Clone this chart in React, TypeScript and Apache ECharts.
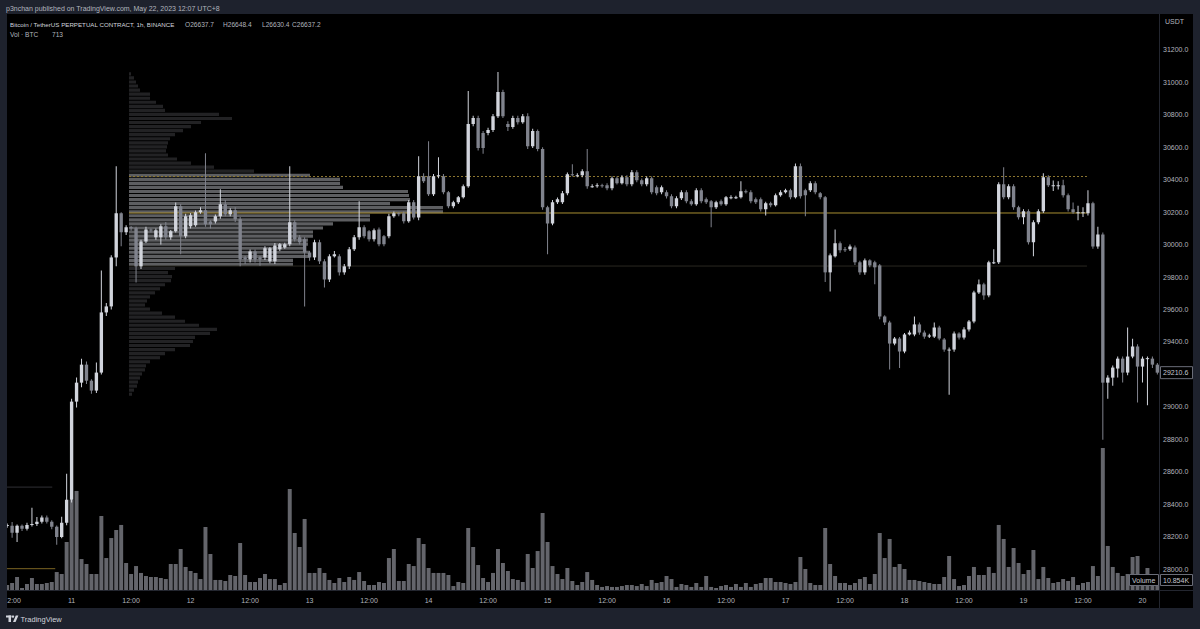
import React, { useEffect, useRef } from "react";
import * as echarts from "echarts";

// hours relative to 11 May 2023 00:00 (first candle: 10 May 11:00)
const FIRST_HOUR = -13;

// [open, close, low, high] per 1h candle
const candles: number[][] = [
  [28266,28272,28255,28280],[28266,28223,28192,28290],[28223,28266,28167,28275],[28266,28248,28235,28275],
  [28248,28272,28238,28285],[28272,28278,28262,28377],[28278,28291,28265,28320],[28291,28318,28280,28330],
  [28318,28291,28280,28330],[28291,28260,28245,28300],[28260,28198,28149,28268],[28198,28285,28190,28322],
  [28285,28427,28270,28587],[28427,29032,28410,29050],[29032,29149,28995,29180],[29149,29260,29120,29297],
  [29260,29161,29140,29280],[29161,29100,29080,29170],[29100,29211,29085,29273],[29211,29582,29200,29840],
  [29582,29619,29560,29640],[29619,29921,29600,29935],[29921,30193,29866,30484],[30193,30076,29990,30200],
  [30076,30107,30060,30120],[30107,30101,30085,30115],[30101,29866,29767,30110],[29866,30020,29850,30030],
  [30020,30094,30010,30110],[30094,30088,30075,30100],[30045,30088,30030,30100],[30045,30113,30000,30125],
  [30113,30045,30030,30140],[30045,30082,30030,30090],[30082,30236,30075,30260],[30236,30051,29940,30250],
  [30051,30175,30040,30190],[30113,30181,30100,30195],[30120,30199,30110,30210],[30199,30212,30190,30230],
  [30212,30125,30110,30564],[30143,30125,30100,30150],[30143,30175,30130,30185],[30175,30249,30160,30341],
  [30249,30187,30175,30275],[30187,30212,30175,30225],[30212,30156,30140,30230],[30156,29909,29866,30170],
  [29921,29909,29880,29930],[29909,29958,29890,29970],[29958,29909,29890,29970],[29921,29909,29870,29930],
  [29921,29977,29905,29990],[29897,29977,29885,29985],[29897,29995,29880,30010],[29971,30002,29960,30010],
  [29983,30002,29975,30012],[30002,30138,29990,30484],[30138,30033,30020,30150],[30045,30014,30000,30060],
  [30033,29952,29619,30045],[29952,29921,29900,29960],[29921,30014,29905,30030],[30014,29897,29880,30030],
  [29897,29785,29736,29910],[29785,29928,29770,29940],[29928,29940,29920,29960],[29928,29829,29810,29940],
  [29829,29866,29815,29880],[29866,29971,29850,29985],[29971,30045,29960,30060],[30045,30107,30030,30267],
  [30107,30051,30040,30120],[30082,30033,30020,30090],[30033,30088,30020,30100],[30094,30002,29990,30105],
  [30051,30002,29990,30060],[30051,30175,30040,30190],[30175,30193,30165,30205],[30193,30187,30175,30200],
  [30193,30144,30130,30205],[30144,30261,30135,30275],[30261,30168,30155,30275],[30168,30422,30150,30545],
  [30422,30391,30380,30440],[30422,30311,30300,30638],[30311,30422,30300,30435],[30422,30428,30410,30539],
  [30422,30323,30310,30435],[30323,30236,30225,30330],[30236,30261,30225,30270],[30261,30292,30250,30300],
  [30292,30360,30285,30370],[30360,30743,30350,30947],[30743,30780,30730,30795],[30780,30595,30580,30795],
  [30688,30595,30560,30700],[30688,30706,30675,30720],[30706,30792,30695,30805],[30792,30941,30780,31064],
  [30941,30792,30780,30955],[30743,30725,30700,30760],[30725,30780,30715,30795],[30780,30755,30740,30795],
  [30755,30792,30745,30805],[30792,30607,30590,30810],[30607,30700,30595,30715],[30700,30589,30575,30710],
  [30589,30230,30215,30600],[30230,30131,29940,30240],[30131,30261,30120,30275],[30261,30280,30250,30290],
  [30261,30317,30250,30330],[30317,30434,30305,30445],[30434,30428,30420,30496],[30428,30428,30415,30440],
  [30428,30453,30415,30465],[30453,30360,30345,30589],[30360,30360,30350,30372],[30360,30366,30350,30378],
  [30366,30360,30350,30375],[30366,30348,30335,30378],[30348,30410,30335,30420],[30410,30379,30370,30420],
  [30379,30416,30370,30428],[30416,30372,30360,30428],[30372,30447,30360,30460],[30447,30397,30385,30458],
  [30397,30372,30360,30408],[30372,30410,30360,30420],[30410,30323,30310,30420],[30354,30317,30305,30365],
  [30323,30354,30310,30365],[30323,30298,30285,30335],[30298,30236,30225,30310],[30236,30286,30225,30298],
  [30286,30323,30275,30335],[30323,30267,30255,30335],[30267,30249,30240,30280],[30249,30335,30240,30348],
  [30335,30267,30255,30348],[30280,30261,30250,30290],[30267,30230,30107,30275],[30230,30261,30220,30270],
  [30267,30249,30240,30278],[30249,30292,30240,30300],[30292,30292,30280,30304],[30292,30292,30282,30302],
  [30292,30329,30285,30391],[30329,30323,30315,30340],[30323,30267,30255,30335],[30280,30261,30250,30290],
  [30280,30218,30205,30290],[30218,30255,30180,30265],[30255,30243,30230,30265],[30243,30304,30235,30315],
  [30304,30323,30295,30335],[30323,30335,30315,30345],[30335,30292,30280,30345],[30292,30484,30285,30500],
  [30484,30298,30285,30500],[30335,30304,30175,30345],[30335,30379,30325,30390],[30379,30323,30310,30390],
  [30317,30292,30280,30325],[30292,29829,29770,30300],[29829,29934,29711,29945],[29928,30008,29920,30094],
  [30008,29965,29950,30020],[29971,29968,29955,29985],[29971,29989,29960,30000],[29983,29891,29875,29995],
  [29891,29829,29815,29900],[29829,29903,29815,29915],[29903,29872,29860,29910],[29891,29860,29755,29900],
  [29872,29557,29540,29880],[29557,29520,29505,29565],[29520,29390,29230,29530],[29390,29421,29380,29430],
  [29421,29341,29240,29430],[29341,29446,29330,29455],[29446,29458,29440,29470],[29446,29508,29435,29557],
  [29508,29458,29445,29520],[29458,29433,29420,29470],[29433,29440,29425,29450],[29433,29489,29425,29520],
  [29489,29421,29410,29500],[29415,29353,29340,29425],[29353,29353,29075,29365],[29353,29452,29340,29465],
  [29452,29427,29415,29460],[29427,29477,29415,29490],[29477,29526,29465,29535],[29526,29705,29515,29715],
  [29705,29755,29695,29785],[29755,29687,29660,29765],[29687,29891,29675,29900],[29891,29891,29880,29971],
  [29891,30372,29880,30385],[30372,30292,30280,30477],[30292,30360,30280,30372],[30360,30230,30215,30372],
  [30230,30169,30155,30240],[30169,30206,30125,30218],[30206,30014,30000,30218],[30014,30138,29928,30150],
  [30138,30206,30125,30218],[30206,30416,30195,30440],[30416,30366,30355,30428],[30366,30366,30330,30395],
  [30366,30366,30340,30390],[30366,30304,30290,30400],[30304,30218,30205,30315],[30218,30199,30190,30260],
  [30199,30199,30150,30240],[30199,30199,30170,30230],[30193,30255,30180,30335],[30255,29989,29975,30265],
  [29989,30063,29975,30110],[30063,29149,28797,30075],[29149,29180,29050,29195],[29180,29242,29130,29255],
  [29236,29297,29180,29310],[29297,29211,29150,29310],[29211,29310,29195,29489],[29310,29372,29300,29420],
  [29372,29248,29026,29385],[29248,29297,29150,29310],[29297,29300,29010,29310],[29297,29260,29240,29310],
  [29260,29210.6,29200,29270],
];

// hourly volume, thousand BTC
const volumes: number[] = [
  5.4,7.6,14.1,2.2,6.5,13.0,6.5,6.5,7.6,8.7,19.5,17.4,52.1,97.7,107.5,33.6,28.2,17.4,17.4,80.3,
  34.7,56.4,65.1,70.6,29.3,17.4,26.0,18.5,15.2,14.1,14.1,13.0,11.9,28.2,28.2,44.5,25.0,20.6,18.5,11.9,
  68.4,39.1,10.9,10.9,9.8,16.3,15.2,51.0,16.3,8.7,8.7,13.0,17.4,11.9,11.9,5.4,7.6,109.6,61.9,46.7,
  77.1,18.5,18.5,23.9,18.5,10.9,7.6,13.0,8.7,14.1,10.9,19.5,9.8,5.4,5.4,8.7,7.6,34.7,44.5,
  9.8,9.8,28.2,26.0,56.4,49.9,23.9,18.5,18.5,18.5,16.3,4.3,8.7,7.6,67.3,46.7,27.1,13.0,8.7,18.5,
  44.5,29.3,20.6,11.9,10.9,8.7,39.1,23.9,42.3,83.6,52.1,26.0,17.4,11.9,23.9,9.8,5.4,8.7,19.5,10.9,
  5.4,3.3,4.3,3.3,3.3,4.3,5.4,5.4,4.3,6.5,4.3,10.9,7.6,8.7,15.2,11.9,3.3,6.5,5.4,3.3,
  7.6,3.3,15.2,3.3,2.2,4.3,5.4,3.3,6.5,3.3,7.6,3.3,6.5,7.6,13.0,
  13.0,8.7,8.7,7.6,6.5,8.7,35.8,22.8,7.6,5.4,5.4,67.3,28.2,15.2,7.6,7.6,5.4,7.6,11.9,14.1,
  6.5,17.4,61.9,34.7,55.4,25.0,28.2,22.8,10.9,10.9,9.8,8.7,7.6,6.5,6.5,14.1,36.9,11.9,4.3,5.4,
  15.2,25.0,16.3,16.3,25.0,18.5,70.6,55.4,25.0,45.6,29.3,17.4,21.7,43.4,11.9,25.0,13.0,7.6,8.7,11.9,
  9.8,14.1,5.4,7.6,8.7,26.0,15.2,154.1,47.8,25.0,18.5,15.2,17.4,35.8,36.9,14.1,23.9,10.9,10.854,
];

// volume profile (price row -> relative volume)
const profilePrices: number[] = [
  31050,31025,31000,30975,30950,30925,30900,30875,30850,30825,30800,30775,30750,30725,30700,30675,
  30650,30625,30600,30575,30550,30525,30500,30475,30450,30425,30400,30375,30350,30325,30300,30275,
  30250,30225,30200,30175,30150,30125,30100,30075,30050,30025,30000,29975,29950,29925,29900,29875,
  29850,29825,29800,29775,29750,29725,29700,29675,29650,29625,29600,29575,29550,29525,29500,29475,
  29450,29425,29400,29375,29350,29325,29300,29275,29250,29225,29200,29175,29150,29125,29100,29075,
];
const profileVolumes: number[] = [
  2,5,7,9,11,21,21,27,34,36,90,103,72,62,54,46,
  41,39,38,37,39,48,62,85,125,181,211,211,214,279,280,281,
  261,314,314,241,241,204,194,184,184,179,179,174,181,181,164,164,
  46,39,43,42,36,31,26,21,18,16,21,33,46,56,70,88,
  81,66,64,61,46,36,31,21,17,16,13,11,9,8,5,3,
];

const timeTicks: number[] = [-12,0,12,24,36,48,60,72,84,96,108,120,132,144,156,168,180,192,204,216];
const timeLabels: string[] = ["12:00","11","12:00","12","12:00","13","12:00","14","12:00","15","12:00","16","12:00","17","12:00","18","12:00","19","12:00","20"];

const POC_PRICE = 30195;
const VAH_PRICE = 30420;
const VAL_PRICE = 29868;
const PROFILE_FROM = 11.58;
const PROFILE_TO = 204.8;
const OLD_LEVEL_A = 28505;
const OLD_LEVEL_B = 28002;
const OLD_LEVEL_END_A = -3.9;
const OLD_LEVEL_END_B = -3.3;
const LAST_PRICE = 29210.6;

const FONT = '"Liberation Sans", Arial, sans-serif';
const TXT = "#b2b5be";
const UP = "#d1d4dc";
const DOWN = "#80838d";
const NAVY = "#1e222d";

const X_MIN = -13.03;
const X_MAX = 219.33;

export default function App() {
  const ref = useRef<HTMLDivElement>(null);
  useEffect(() => {
    const chart = echarts.init(ref.current as HTMLDivElement, null, { renderer: "svg" });
    const candleData = candles.map((c, i) => [FIRST_HOUR + i, c[0], c[1], c[2], c[3]]);
    const volData = volumes.map((v, i) => [FIRST_HOUR + i, v]);
    const profData = profilePrices.map((p, i) => [p, profileVolumes[i]]);
    const hiddenPrices = [27800, 31400, 29200];

    const option: any = {
      animation: false,
      backgroundColor: "#000000",
      grid: [
        { left: 7, right: 41, top: 17.56, bottom: 27.56 },
        { left: 7, right: 41, top: 290, bottom: 39 },
        { left: 129, right: 41, top: 17.56, bottom: 27.56 },
      ],
      xAxis: [
        { type: "value", gridIndex: 0, min: X_MIN, max: X_MAX, show: false },
        {
          type: "value", gridIndex: 1, min: X_MIN, max: X_MAX,
          axisLine: { show: false }, axisTick: { show: false }, splitLine: { show: false },
          axisLabel: {
            customValues: timeTicks,
            formatter: (v: number) => {
              const k = timeTicks.indexOf(Math.round(v));
              return k >= 0 ? timeLabels[k] : "";
            },
            color: TXT, fontSize: 7, fontFamily: FONT, margin: 7,
          },
        },
        { type: "value", gridIndex: 2, min: 0, max: 1030, show: false },
      ],
      yAxis: [
        {
          type: "value", gridIndex: 0, position: "right", min: 27800, max: 31400, interval: 200,
          axisLine: { show: false }, axisTick: { show: false }, splitLine: { show: false },
          axisLabel: {
            formatter: (v: number) => (hiddenPrices.indexOf(v) >= 0 ? "" : v.toFixed(1)),
            color: TXT, fontSize: 7, fontFamily: FONT, margin: 4,
            showMinLabel: false, showMaxLabel: false,
          },
        },
        { type: "value", gridIndex: 1, min: 0, max: 325.62, show: false },
        { type: "value", gridIndex: 2, min: 27800, max: 31400, show: false },
      ],
      series: [
        {
          type: "custom", name: "profile", xAxisIndex: 2, yAxisIndex: 2, z: 1, clip: true,
          encode: { x: 1, y: 0 }, data: profData,
          renderItem: (params: any, api: any) => {
            const price = api.value(0);
            const vol = api.value(1);
            const p0 = api.coord([0, price]);
            const p1 = api.coord([vol, price]);
            const rowH = Math.abs(api.size([0, 25])[1]);
            const inVA = price <= VAH_PRICE + 5 && price >= VAL_PRICE;
            return {
              type: "rect",
              shape: { x: p0[0], y: p0[1] - rowH / 2, width: p1[0] - p0[0], height: rowH - 0.9 },
              style: { fill: inVA ? "rgba(150,151,156,0.62)" : "rgba(80,81,86,0.42)" },
            };
          },
        },
        {
          type: "line", xAxisIndex: 0, yAxisIndex: 0, z: 3, symbol: "none", silent: true,
          data: [[PROFILE_FROM, POC_PRICE], [PROFILE_TO, POC_PRICE]],
          lineStyle: { color: "#a88f32", width: 1 },
        },
        {
          type: "line", xAxisIndex: 0, yAxisIndex: 0, z: 3, symbol: "none", silent: true,
          data: [[PROFILE_FROM, VAH_PRICE], [PROFILE_TO, VAH_PRICE]],
          lineStyle: { color: "#8c7630", width: 1, type: [2, 2] },
        },
        {
          type: "line", xAxisIndex: 0, yAxisIndex: 0, z: 3, symbol: "none", silent: true,
          data: [[PROFILE_FROM, VAL_PRICE], [PROFILE_TO, VAL_PRICE]],
          lineStyle: { color: "#2a2820", width: 1 },
        },
        {
          type: "line", xAxisIndex: 0, yAxisIndex: 0, z: 3, symbol: "none", silent: true,
          data: [[X_MIN, OLD_LEVEL_A], [OLD_LEVEL_END_A, OLD_LEVEL_A]],
          lineStyle: { color: "#2f3034", width: 1 },
        },
        {
          type: "line", xAxisIndex: 0, yAxisIndex: 0, z: 3, symbol: "none", silent: true,
          data: [[X_MIN, OLD_LEVEL_B], [OLD_LEVEL_END_B, OLD_LEVEL_B]],
          lineStyle: { color: "#7a6423", width: 1 },
        },
        {
          type: "custom", name: "Volume", xAxisIndex: 1, yAxisIndex: 1, z: 2, clip: true,
          encode: { x: 0, y: 1 }, data: volData,
          renderItem: (params: any, api: any) => {
            const h = api.value(0);
            const v = api.value(1);
            const b = api.coord([h, 0]);
            const t = api.coord([h, v]);
            const w = api.size([1, 0])[0] * 0.8;
            return {
              type: "rect",
              shape: { x: b[0] - w / 2, y: t[1], width: w, height: b[1] - t[1] },
              style: { fill: "#64656b" },
            };
          },
        },
        {
          type: "custom", name: "BTCUSDT.P", xAxisIndex: 0, yAxisIndex: 0, z: 4, clip: true,
          encode: { x: 0, y: [1, 2, 3, 4] }, data: candleData,
          renderItem: (params: any, api: any) => {
            const h = api.value(0);
            const o = api.value(1);
            const c = api.value(2);
            const lo = api.value(3);
            const hi = api.value(4);
            const po = api.coord([h, o]);
            const pc = api.coord([h, c]);
            const pl = api.coord([h, lo]);
            const ph = api.coord([h, hi]);
            const w = api.size([1, 0])[0] * 0.68;
            const color = c >= o ? UP : DOWN;
            const top = Math.min(po[1], pc[1]);
            const bh = Math.max(1, Math.abs(po[1] - pc[1]));
            return {
              type: "group",
              children: [
                { type: "rect", shape: { x: po[0] - 0.5, y: ph[1], width: 1, height: pl[1] - ph[1] }, style: { fill: color } },
                { type: "rect", shape: { x: po[0] - w / 2, y: top, width: w, height: bh }, style: { fill: color } },
              ],
            };
          },
        },
      ],
    };
    chart.setOption(option);

    const yLast = chart.convertToPixel({ yAxisIndex: 0 } as any, LAST_PRICE) as number;
    const yVol = chart.convertToPixel({ yAxisIndex: 1 } as any, volumes[volumes.length - 1]) as number;
    const t = (text: string, x: number, y: number, fill: string, size = 7, z = 101) => ({
      type: "text", x, y, z, silent: true,
      style: { text, fill, fontSize: size, fontFamily: FONT, verticalAlign: "middle", align: "left" },
    });
    const graphic: any[] = [
      // separators
      { type: "line", z: 50, silent: true, shape: { x1: 1159.5, y1: 14, x2: 1159.5, y2: 608 }, style: { stroke: "#23262f", lineWidth: 1 } },
      { type: "line", z: 50, silent: true, shape: { x1: 7, y1: 590.5, x2: 1193, y2: 590.5 }, style: { stroke: "#23262f", lineWidth: 1 } },
      // frame
      { type: "rect", z: 100, silent: true, shape: { x: 0, y: 0, width: 1200, height: 14 }, style: { fill: NAVY } },
      { type: "rect", z: 100, silent: true, shape: { x: 0, y: 0, width: 7, height: 629 }, style: { fill: NAVY } },
      { type: "rect", z: 100, silent: true, shape: { x: 1193, y: 0, width: 7, height: 629 }, style: { fill: NAVY } },
      { type: "rect", z: 100, silent: true, shape: { x: 0, y: 608, width: 1200, height: 21 }, style: { fill: NAVY } },
      t("p3nchan published on TradingView.com, May 22, 2023 12:07 UTC+8", 6, 8, TXT),
      t("Bitcoin / TetherUS PERPETUAL CONTRACT, 1h, BINANCE", 10, 24.5, "#d1d4dc", 6.2),
      t("O26637.7", 185, 24.5, TXT, 6.6),
      t("H26648.4", 223, 24.5, TXT, 6.6),
      t("L26630.4", 262, 24.5, TXT, 6.6),
      t("C26637.2", 292, 24.5, TXT, 6.6),
      t("Vol · BTC", 10, 34.5, TXT, 6.6),
      t("713", 52, 34.5, TXT, 6.6),
      t("USDT", 1165, 21, TXT),
      // last price label
      { type: "rect", z: 102, silent: true, shape: { x: 1160.5, y: yLast - 6, width: 32, height: 12 }, style: { fill: "#000", stroke: "#6a6d78", lineWidth: 1 } },
      t("29210.6", 1163, yLast, "#c4c7cf", 7, 103),
      // volume label
      { type: "rect", z: 102, silent: true, shape: { x: 1129.5, y: yVol - 5.5, width: 29, height: 11 }, style: { fill: "#000", stroke: "#6a6d78", lineWidth: 1 } },
      t("Volume", 1132, yVol, "#c4c7cf", 7, 103),
      { type: "rect", z: 102, silent: true, shape: { x: 1160.5, y: yVol - 5.5, width: 32, height: 11 }, style: { fill: "#000", stroke: "#6a6d78", lineWidth: 1 } },
      t("10.854K", 1163, yVol, "#c4c7cf", 7, 103),
      // TradingView logo
      { type: "rect", z: 101, silent: true, shape: { x: 6, y: 615.5, width: 5.5, height: 2 }, style: { fill: "#d1d4dc" } },
      { type: "rect", z: 101, silent: true, shape: { x: 8.5, y: 615.5, width: 2.5, height: 6.5 }, style: { fill: "#d1d4dc" } },
      { type: "circle", z: 101, silent: true, shape: { cx: 13, cy: 616.6, r: 1.2 }, style: { fill: "#d1d4dc" } },
      { type: "polygon", z: 101, silent: true, shape: { points: [[13, 622], [15.8, 615.5], [18.4, 615.5], [15.6, 622]] }, style: { fill: "#d1d4dc" } },
      t("TradingView", 20.5, 619, "#d1d4dc", 7.5),
    ];
    chart.setOption({ graphic });
    return () => chart.dispose();
  }, []);
  return <div ref={ref} style={{ position: "fixed", left: 0, top: 0, width: 1200, height: 629 }} />;
}
